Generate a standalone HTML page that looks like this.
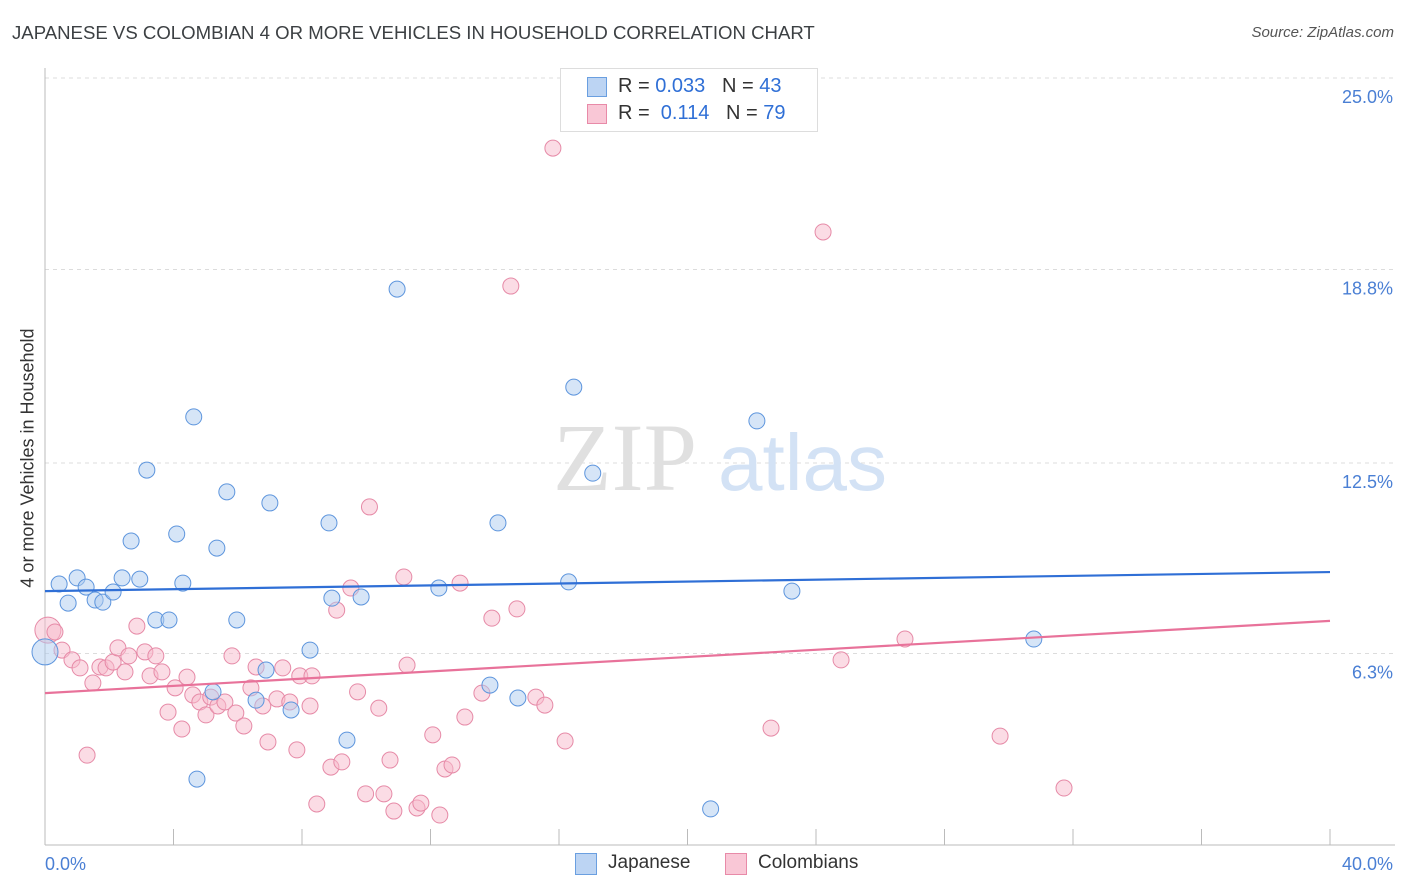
<!DOCTYPE html>
<html><head><meta charset="utf-8"><style>
body{margin:0;background:#fff;font-family:"Liberation Sans",sans-serif;}
#wrap{position:relative;width:1406px;height:892px;overflow:hidden;}
.t{position:absolute;white-space:nowrap;}
</style></head><body>
<div id="wrap">
<div class="t" style="left:12px;top:22px;font-size:18.6px;color:#3c4043;">JAPANESE VS COLOMBIAN 4 OR MORE VEHICLES IN HOUSEHOLD CORRELATION CHART</div>
<div class="t" style="right:12px;top:24px;font-size:15px;color:#555;font-style:italic;">Source: ZipAtlas.com</div>
<div class="t" style="left:8px;top:458px;transform:translate(0,-50%) rotate(-90deg);transform-origin:center;font-size:18px;color:#333;width:40px;text-align:center;"><span style="display:inline-block;transform:translateX(-50%);margin-left:20px">4 or more Vehicles in Household</span></div>
<svg id="svg" width="1406" height="892" style="position:absolute;left:0;top:0"></svg>
</div>
<script>
const yTicks=[25,18.8,12.5,6.3];
const yTickLabels=["25.0%","18.8%","12.5%","6.3%"];
const xTickLabels=["0.0%","40.0%"];
const japX=[0,0.44,0.72,1.0,1.28,1.56,1.8,2.12,2.4,2.68,2.95,3.17,3.45,3.86,4.1,4.29,4.63,4.73,5.23,5.35,5.66,5.97,6.57,6.88,7.0,7.66,8.25,8.84,8.93,9.4,9.84,10.96,12.26,13.85,14.1,14.72,16.3,16.46,17.05,20.72,22.16,23.25,30.78];
const japY=[6.35,8.56,7.94,8.76,8.46,8.04,7.97,8.3,8.76,9.96,8.72,12.27,7.39,7.39,10.19,8.59,14.0,2.21,5.05,9.73,11.56,7.39,4.78,5.76,11.2,4.46,6.41,10.55,8.1,3.48,8.14,18.16,8.43,5.27,10.55,4.85,8.63,14.97,12.17,1.24,13.87,8.33,6.77];
const colX=[0.09,0.31,0.53,0.84,1.09,1.31,1.49,1.71,1.9,2.12,2.27,2.49,2.61,2.86,3.11,3.27,3.45,3.64,3.83,4.05,4.26,4.42,4.6,4.82,5.01,5.16,5.38,5.6,5.82,5.94,6.19,6.41,6.57,6.78,6.94,7.22,7.4,7.62,7.84,7.93,8.25,8.31,8.46,8.9,9.08,9.24,9.52,9.73,9.98,10.1,10.39,10.55,10.74,10.86,11.17,11.27,11.58,11.7,12.07,12.29,12.45,12.67,12.92,13.07,13.6,13.91,14.5,14.69,15.28,15.56,15.81,16.19,22.6,24.22,24.78,26.77,29.73,31.72];
const colY=[7.06,7.0,6.41,6.09,5.83,2.99,5.34,5.86,5.83,6.02,6.48,5.7,6.22,7.19,6.35,5.57,6.22,5.7,4.39,5.18,3.84,5.53,4.95,4.72,4.3,4.88,4.59,4.72,6.22,4.36,3.94,5.18,5.86,4.59,3.42,4.82,5.83,4.72,3.16,5.57,4.59,5.57,1.4,2.6,7.71,2.77,8.43,5.05,1.73,11.07,4.52,1.73,2.83,1.17,8.79,5.92,1.27,1.43,3.65,1.04,2.54,2.67,8.59,4.23,5.01,7.45,18.26,7.75,4.88,4.62,22.75,3.45,3.87,20.02,6.09,6.77,3.61,1.92];
const japLine=[8.33,8.95];
const colLine=[5.01,7.36];

const NS="http://www.w3.org/2000/svg";
const svg=document.getElementById('svg');
const X=v=>45+v/40*1285;
const Y=v=>847-v/6.25*192;
function mk(tag,attrs){const e=document.createElementNS(NS,tag);for(const k in attrs)e.setAttribute(k,attrs[k]);svg.appendChild(e);return e;}
yTicks.forEach((v,i)=>{
 const yy=v===25?78:Y(v);
 const g=mk('line',{x1:45,x2:1395,y1:yy,y2:yy,stroke:'#dcdcdc','stroke-dasharray':'4,4'});
 
 
 const t=mk('text',{x:1393,y:yy+25,'text-anchor':'end','font-size':18,fill:'#4a7fd4','font-family':'Liberation Sans, sans-serif'});
 t.textContent=yTickLabels[i];
 
 
});
const ax=mk('line',{x1:45,x2:45,y1:68,y2:845,stroke:'#bbb'});


const bx=mk('line',{x1:45,x2:1395,y1:845,y2:845,stroke:'#bbb'});


for(let i=0;i<=10;i++){
 const tk=mk('line',{x1:X(i*4),x2:X(i*4),y1:829,y2:845,stroke:'#bbb'});
 
 
}
[[0,'start',45],[1,'end',1393]].forEach(([i,a,x])=>{
 const t=mk('text',{x:x,y:870,'text-anchor':a,'font-size':18,fill:'#4a7fd4','font-family':'Liberation Sans, sans-serif'});
 t.textContent=xTickLabels[i];
 
 
});
const wm=mk('text',{x:553,y:490,'font-size':96,fill:'#e0e0e0','font-family':'Liberation Serif, serif'});
wm.textContent='ZIP';


const wm2=mk('text',{x:718,y:490,'font-size':80,fill:'#d3e2f5','font-family':'Liberation Sans, sans-serif'});
wm2.textContent='atlas';


function pts(xs,ys,fill,stroke,name,bigR){
 xs.forEach((v,i)=>{
  const c=mk('circle',{cx:X(v),cy:Y(ys[i]),r:i===0?bigR:8,fill:fill,'fill-opacity':0.5,stroke:stroke,'stroke-width':1});
  
  
 });
}
pts(colX,colY,'#f7b9cc','#e68aa7','colombians-point',13);
pts(japX,japY,'#aecbf0','#5d95dd','japanese-point',13);
const l1=mk('line',{x1:X(0),x2:X(40),y1:Y(japLine[0]),y2:Y(japLine[1]),stroke:'#2f6fd6','stroke-width':2.2});


const l2=mk('line',{x1:X(0),x2:X(40),y1:Y(colLine[0]),y2:Y(colLine[1]),stroke:'#e8729a','stroke-width':2.2});


</script>
<div class="t" style="left:560px;top:68px;width:256px;height:62px;border:1px solid #ddd;background:#fff;font-size:20px;">
 <div class="t" style="left:26px;top:8px;width:18px;height:18px;background:#bcd4f3;border:1px solid #6a9fe0;"></div>
 <div class="t" style="left:57px;top:6px;color:#333;">R = <span style="color:#2f6fd6">0.033</span>&nbsp;&nbsp;&nbsp;N = <span style="color:#2f6fd6">43</span></div>
 <div class="t" style="left:26px;top:35px;width:18px;height:18px;background:#f9c7d6;border:1px solid #e88aa8;"></div>
 <div class="t" style="left:57px;top:33px;color:#333;">R = &nbsp;<span style="color:#2f6fd6">0.114</span>&nbsp;&nbsp;&nbsp;N = <span style="color:#2f6fd6">79</span></div>
</div>
<div class="t" style="left:575px;top:853px;width:20px;height:20px;background:#bcd4f3;border:1px solid #6a9fe0;"></div>
<div class="t" style="left:608px;top:852px;font-size:19px;color:#333;">Japanese</div>
<div class="t" style="left:725px;top:853px;width:20px;height:20px;background:#f9c7d6;border:1px solid #e88aa8;"></div>
<div class="t" style="left:758px;top:852px;font-size:19px;color:#333;">Colombians</div>
</body></html>
